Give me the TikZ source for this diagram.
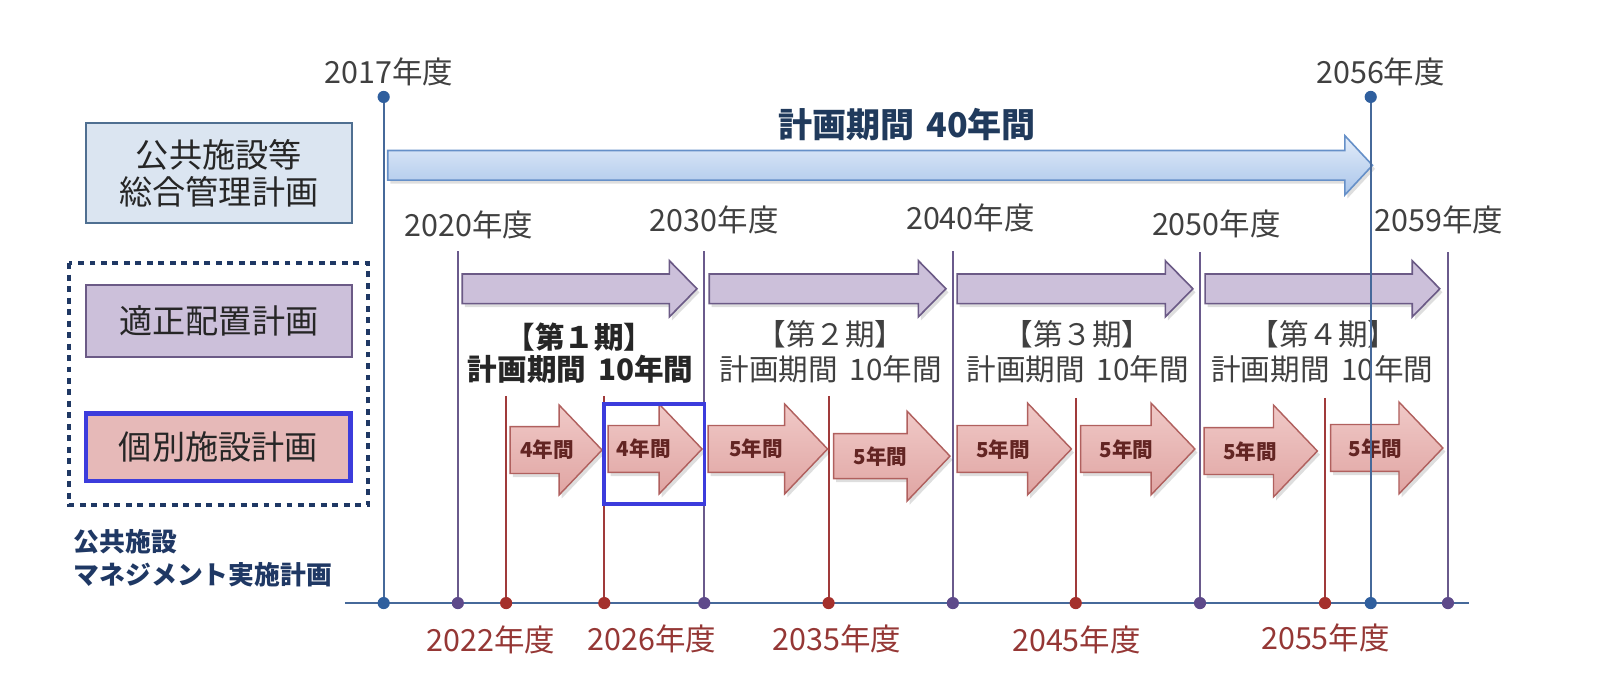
\documentclass[tikz,border=0pt]{standalone}
\usepackage{fontspec}
\setmainfont{Noto Sans CJK JP}
\definecolor{txtgray}{HTML}{404040}
\definecolor{txtdark}{HTML}{262626}
\definecolor{yrred}{HTML}{953735}
\definecolor{navy}{HTML}{1F3864}
\definecolor{titlec}{HTML}{203A5C}
\definecolor{bluefill}{HTML}{DBE5F1}
\definecolor{blueedge}{HTML}{4F6F91}
\definecolor{purfill}{HTML}{CCC0DA}
\definecolor{puredge}{HTML}{6B5A86}
\definecolor{redfill}{HTML}{E6B9B8}
\definecolor{rededge}{HTML}{B0605E}
\definecolor{hilite}{HTML}{3C3CDC}
\definecolor{lnblue}{HTML}{46699A}
\definecolor{lnpur}{HTML}{6A5A8C}
\definecolor{lnred}{HTML}{A03A3A}
\definecolor{dotblue}{HTML}{2F5F9E}
\definecolor{dotpur}{HTML}{5E4A8A}
\definecolor{dotred}{HTML}{A4302C}
\definecolor{arrtxt}{HTML}{632523}
\definecolor{arrblue1}{HTML}{E3ECF9}
\definecolor{arrblue2}{HTML}{A9C5EA}
\definecolor{arrblueedge}{HTML}{6690C8}
\definecolor{arrred1}{HTML}{F0C9C7}
\definecolor{arrred2}{HTML}{E0A5A3}
% x0, x1, yc, shaft half height, head half height, head length, style
\newcommand\blockarr[7]{%
  \fill[black,opacity=0.13,shift={(2.5,3.5)}] (#1,{#3-#4}) -- ({#2-#6},{#3-#4}) -- ({#2-#6},{#3-#5}) -- (#2,#3) -- ({#2-#6},{#3+#5}) -- ({#2-#6},{#3+#4}) -- (#1,{#3+#4}) -- cycle;
  \path[#7] (#1,{#3-#4}) -- ({#2-#6},{#3-#4}) -- ({#2-#6},{#3-#5}) -- (#2,#3) -- ({#2-#6},{#3+#5}) -- ({#2-#6},{#3+#4}) -- (#1,{#3+#4}) -- cycle;
}
\begin{document}
\begin{tikzpicture}[x=0.02cm,y=-0.02cm,
  yrlab/.style={font=\fontsize{17}{19}\selectfont, text=txtgray, inner sep=0pt},
  yrbot/.style={yrlab, text=yrred},
  boxtxt/.style={font=\fontsize{18.5}{20.5}\selectfont, text=txtdark, align=center, inner sep=0pt},
  perbold/.style={font=\bfseries\fontsize{16.5}{19}\selectfont, text=txtdark, inner sep=0pt},
  perreg/.style={font=\fontsize{16.5}{19}\selectfont, text=txtgray, inner sep=0pt},
  arrlab/.style={font=\bfseries\fontsize{11.5}{13}\selectfont, text=arrtxt, inner sep=0pt},
  bluearr/.style={draw=arrblueedge, line width=0.9pt, top color=arrblue1, bottom color=arrblue2},
  purarr/.style={draw=puredge, line width=0.9pt, fill=purfill},
  redarr/.style={draw=rededge, line width=0.8pt, top color=arrred1, bottom color=arrred2},
  vblue/.style={draw=lnblue, line width=1.2pt},
  vpur/.style={draw=lnpur, line width=1.1pt},
  vred/.style={draw=lnred, line width=1.1pt},
]
\useasboundingbox (0,0) rectangle (1568,686);

% ---- coordinates of the timeline
\coordinate (b17) at (376,591);    \coordinate (t17) at (376,95);
\coordinate (b20) at (448.7,591);  \coordinate (t20) at (448.7,246);
\coordinate (b22) at (496,591);    \coordinate (t22) at (496,388);
\coordinate (b26) at (592.2,591);  \coordinate (t26) at (592.2,388);
\coordinate (b30) at (690.2,591);  \coordinate (t30) at (690.2,246);
\coordinate (b35) at (812,591);    \coordinate (t35) at (812,388);
\coordinate (b40) at (933.8,591);  \coordinate (t40) at (933.8,246);
\coordinate (b45) at (1054.2,591); \coordinate (t45) at (1054.2,390);
\coordinate (b50) at (1176,591);   \coordinate (t50) at (1176,247);
\coordinate (b55) at (1298.5,591); \coordinate (t55) at (1298.5,390);
\coordinate (b56) at (1343.3,591); \coordinate (t56) at (1343.3,95);
\coordinate (b59) at (1419,591);   \coordinate (t59) at (1419,247);
\coordinate (bl) at (338,591);     \coordinate (br) at (1440,591);

% ---- left boxes
\node[draw=blueedge, fill=bluefill, line width=1.1pt, minimum width=5.22cm, minimum height=1.96cm, boxtxt] (sougou) at (214.5,170) {公共施設等\\総合管理計画};
\draw[navy, line width=2.2pt, dash pattern=on 3.3pt off 3.1pt] (68,258) rectangle (361,495);
\node[draw=puredge, fill=purfill, line width=1.1pt, minimum width=5.21cm, minimum height=1.42cm, boxtxt] (tekisei) at (214.5,314.8) {適正配置計画};
\node[draw=hilite, fill=redfill, line width=2.3pt, minimum width=5.18cm, minimum height=1.32cm, boxtxt] (kobetsu) at (214,438.2) {個別施設計画};
\node[anchor=west, align=left, font=\bfseries\fontsize{14.4}{18.7}\selectfont, text=navy, inner sep=0pt] (mgmt) at (72,547) {公共施設\\マネジメント実施計画};

% ---- blue 40-year arrow
\blockarr{380}{1345}{162}{14.5}{29}{27}{bluearr}
\node[font=\bfseries\fontsize{19}{21}\selectfont, text=titlec, inner sep=0pt] (title) at (889,122) {計画期間\hspace{0.35em}40年間};

% ---- vertical lines (under arrows)
\draw[vblue] (t17) -- (b17);
\draw[vpur] (t20) -- (b20);
\draw[vpur] (t30) -- (b30);
\draw[vpur] (t40) -- (b40);
\draw[vpur] (t50) -- (b50);
\draw[vpur] (t59) -- (b59);
\draw[vred] (t22) -- (b22);
\draw[vred] (t26) -- (b26);
\draw[vred] (t35) -- (b35);
\draw[vred] (t45) -- (b45);
\draw[vred] (t55) -- (b55);

% ---- purple 10-year arrows
\blockarr{453}{683}{283}{14.5}{27.5}{27}{purarr}
\blockarr{695}{927}{283}{14.5}{27.5}{27}{purarr}
\blockarr{938}{1169}{283}{14.5}{27.5}{27}{purarr}
\blockarr{1181}{1411}{283}{14.5}{27.5}{27}{purarr}

% ---- red arrows
\blockarr{500}{590}{441}{23}{44}{42}{redarr}
\blockarr{596}{688}{440}{23}{44}{42}{redarr}
\blockarr{694}{811}{440}{23}{44}{42}{redarr}
\blockarr{817}{931}{447}{22}{44}{42}{redarr}
\blockarr{938}{1050}{440}{23}{45}{43}{redarr}
\blockarr{1059}{1171}{440}{23}{45}{43}{redarr}
\blockarr{1180}{1291}{442}{23}{45}{43}{redarr}
\blockarr{1304}{1414}{439}{23}{45}{43}{redarr}
\node[arrlab] (a1) at (536,441) {4年間};
\node[arrlab] (a2) at (631,440) {4年間};
\node[arrlab] (a3) at (741,440) {5年間};
\node[arrlab] (a4) at (863,447) {5年間};
\node[arrlab] (a5) at (983,441) {5年間};
\node[arrlab] (a6) at (1104,441) {5年間};
\node[arrlab] (a7) at (1225,443) {5年間};
\node[arrlab] (a8) at (1348,440) {5年間};

% ---- period labels
\node[perbold] (p1a) at (568,330) {【第１期】};
\node[perbold] (p1b) at (569,362) {計画期間\hspace{0.4em}10年間};
\node[perreg] (p2a) at (814,328) {【第２期】};
\node[perreg] (p2b) at (814,362) {計画期間\hspace{0.4em}10年間};
\node[perreg] (p3a) at (1056,328) {【第３期】};
\node[perreg] (p3b) at (1056,362) {計画期間\hspace{0.4em}10年間};
\node[perreg] (p4a) at (1297,328) {【第４期】};
\node[perreg] (p4b) at (1296,362) {計画期間\hspace{0.4em}10年間};

% ---- year labels
\node[yrlab] (y17) at (381,70) {2017年度};
\node[yrlab] (y56) at (1353,70) {2056年度};
\node[yrlab] (y20) at (459.5,220) {2020年度};
\node[yrlab] (y30) at (700,215) {2030年度};
\node[yrlab] (y40) at (951,214) {2040年度};
\node[yrlab] (y50) at (1192,219) {2050年度};
\node[yrlab] (y59) at (1410,215) {2059年度};
\node[yrbot] (y22) at (481,627) {2022年度};
\node[yrbot] (y26) at (639,626) {2026年度};
\node[yrbot] (y35) at (820,626) {2035年度};
\node[yrbot] (y45) at (1055,627) {2045年度};
\node[yrbot] (y55) at (1299,625) {2055年度};

% ---- 2056 line on top, baseline, dots
\draw[vblue] (t56) -- (b56);
\draw[lnblue, line width=1.4pt] (bl) -- (br);
\fill[dotblue] (t17) circle (3.4pt);
\fill[dotblue] (t56) circle (3.4pt);
\foreach \p in {b17,b56} \fill[dotblue] (\p) circle (3.4pt);
\foreach \p in {b20,b30,b40,b50,b59} \fill[dotpur] (\p) circle (3.4pt);
\foreach \p in {b22,b26,b35,b45,b55} \fill[dotred] (\p) circle (3.4pt);

% ---- highlight box
\draw[hilite, line width=2pt] (592,396) rectangle (690.5,494);
\end{tikzpicture}
\end{document}
